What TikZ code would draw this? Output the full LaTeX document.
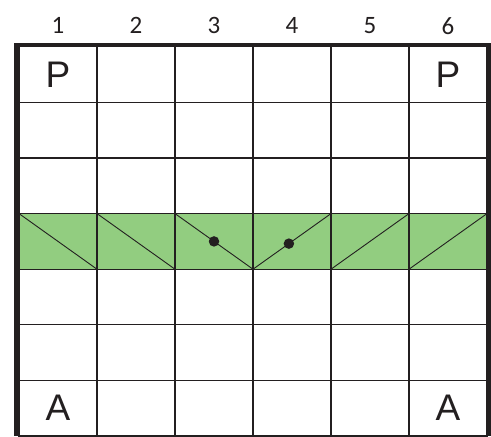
\documentclass[tikz,border=0pt]{standalone}
\usepackage{fontspec}
\setmainfont{Carlito}
\newfontfamily\arialfont{Liberation Sans}
\usetikzlibrary{calc}

\definecolor{rowgreen}{RGB}{146,205,128}
\definecolor{inkdark}{RGB}{35,31,32}

\begin{document}
\begin{tikzpicture}[x=1pt,y=1pt,
  cell/.style={rectangle,draw=inkdark,line width=1.2pt,fill=white,minimum width=78pt,minimum height=55.6pt,inner sep=0,outer sep=0},
  green/.style={cell,fill=rowgreen},
  diag/.style={line width=0.9pt,inkdark},
  dot/.style={circle,fill=inkdark,minimum size=10.5pt,inner sep=0},
  frame/.style={line width=4.5pt,inkdark},
  colnum/.style={font=\fontsize{25}{25}\selectfont,text=inkdark},
  letter/.style={font=\arialfont\fontsize{37}{37}\selectfont,text=inkdark}]
\useasboundingbox (0,0) rectangle (491,437);

%% cells: row 1 on top, column 1 on the left
\foreach \r in {1,...,7}
  \foreach \c in {1,...,6}
    \node[cell] (c\r\c) at ({19+78*(\c-0.5)},{1+55.6*(7.5-\r)}) {};
%% the green row
\foreach \c in {1,...,6}
  \node[green] (g\c) at (c4\c) {};

%% diagonals: falling in columns 1-3, rising in columns 4-6
\foreach \c in {1,2,3}
  \draw[diag] (g\c.north west) -- (g\c.south east);
\foreach \c in {4,5,6}
  \draw[diag] (g\c.south west) -- (g\c.north east);

%% dots on the two middle diagonals
\node[dot] (d1) at ($(g3.north west)!0.5!(g3.south east)$) {};
\node[dot] (d2) at ($(g4.south west)!0.46!(g4.north east)$) {};

%% thick frame, open at the bottom
\draw[frame] (16.5,1) -- (16.5,392) -- (489,392) -- (489,1);

%% column numbers
\foreach \c in {1,...,6}
  \node[colnum] (n\c) at ($(c1\c.north)+(0,21)$) {\c};

%% corner letters
\node[letter] (p1) at (c11) {P};
\node[letter] (p6) at (c16) {P};
\node[letter] (a1) at (c71) {A};
\node[letter] (a6) at (c76) {A};
\end{tikzpicture}
\end{document}
